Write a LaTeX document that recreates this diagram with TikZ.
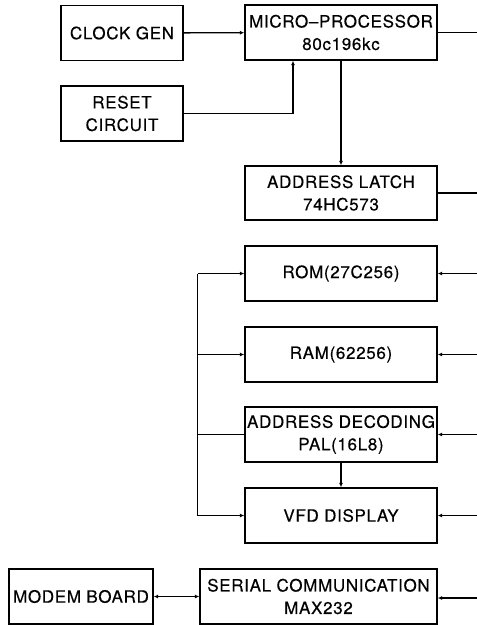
\documentclass[tikz,border=0pt]{standalone}
\usepackage{fontspec}
\setmainfont{TeX Gyre Heros}[LetterSpace=4,FakeBold=0.4]
\usetikzlibrary{arrows.meta}
\tikzset{
  blk/.style={draw, line width=1.4pt, minimum height=55pt, align=center, inner sep=0pt,
    font=\fontsize{17}{22.5}\selectfont},
  wide/.style={blk, minimum width=192pt},
  small/.style={blk, minimum width=122pt},
  wire/.style={line width=1.3pt},
  arr/.style={wire, -{Latex[length=4.5pt,width=4pt]}},
  darr/.style={wire, {Latex[length=4.5pt,width=4pt]}-{Latex[length=4.5pt,width=4pt]}}
}
\begin{document}
\begin{tikzpicture}[x=1pt,y=-1pt]
\useasboundingbox (0,0) rectangle (477,625);
\node[small] (clock) at (122,33) {CLOCK GEN};
\node[wide] (micro) at (341,32.5) {MICRO–PROCESSOR\\80c196kc};
\node[small] (reset) at (122,113.5) {RESET\\CIRCUIT};
\node[wide, minimum height=54pt] (latch) at (341,193) {ADDRESS LATCH\\74HC573};
\node[wide] (rom) at (341,273.5) {ROM(27C256)};
\node[wide] (ram) at (341,354.5) {RAM(62256)};
\node[wide] (dec) at (341,434.5) {ADDRESS DECODING\\PAL(16L8)};
\node[wide] (vfd) at (341,515.5) {VFD DISPLAY};
\node[blk, minimum width=144pt] (modem) at (81,596.5) {MODEM BOARD};
\node[blk, minimum width=237pt] (serial) at (318.5,596.5) {SERIAL COMMUNICATION\\MAX232};

% right-side bus ends
\coordinate (rmicro) at (477,32.5);
\coordinate (rlatch) at (477,193);
\coordinate (rrom) at (477,273.5);
\coordinate (rram) at (477,354.5);
\coordinate (rdec) at (477,434.5);
\coordinate (rvfd) at (477,515.5);
\coordinate (rserial) at (477,598);
% left bus
\coordinate (ltop) at (197.5,273.5);
\coordinate (lbot) at (197.5,515.5);
\coordinate (resetup) at (293,113.5);

\draw[arr] (clock) -- (micro);
\draw[arr] (reset.east) -- (resetup) -- (resetup |- micro.south);
\draw[arr] (micro.south) -- (latch.north);
\draw[wire] (micro.east) -- (rmicro);
\draw[wire] (latch.east) -- (rlatch);
\draw[arr] (rrom) -- (rom.east);
\draw[arr] (rram) -- (ram.east);
\draw[arr] (rdec) -- (dec.east);
\draw[arr] (rvfd) -- (vfd.east);
\draw[arr] (rserial) -- (serial.east |- rserial);
\draw[wire] (ltop) -- (lbot);
\draw[arr] (ltop) -- (rom.west);
\draw[arr] (ltop |- ram.west) -- (ram.west);
\draw[wire] (ltop |- dec.west) -- (dec.west);
\draw[arr] (lbot) -- (vfd.west);
\draw[arr] (dec.south) -- (vfd.north);
\draw[darr] (modem.east) -- (serial.west);
\end{tikzpicture}
\end{document}
